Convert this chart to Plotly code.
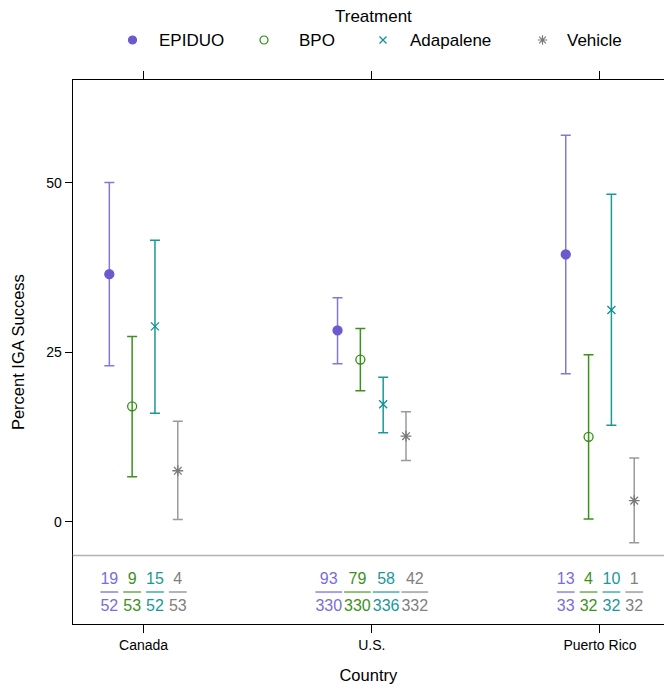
import plotly.graph_objects as go

W, H = 664, 685

countries = ["Canada", "U.S.", "Puerto Rico"]
treatments = ["EPIDUO", "BPO", "Adapalene", "Vehicle"]
y_ticks = [0, 25, 50]

# percent IGA success and confidence limits, per country
epiduo_pct = [36.5, 28.2, 39.4]
epiduo_lo = [23.0, 23.3, 21.8]
epiduo_hi = [50.0, 33.0, 57.0]
epiduo_succ = [19, 93, 13]
epiduo_n = [52, 330, 33]

bpo_pct = [17.0, 23.9, 12.5]
bpo_lo = [6.6, 19.3, 0.4]
bpo_hi = [27.3, 28.5, 24.6]
bpo_succ = [9, 79, 4]
bpo_n = [53, 330, 32]

adap_pct = [28.8, 17.3, 31.2]
adap_lo = [16.0, 13.1, 14.2]
adap_hi = [41.5, 21.3, 48.3]
adap_succ = [15, 58, 10]
adap_n = [52, 336, 32]

veh_pct = [7.5, 12.6, 3.1]
veh_lo = [0.3, 9.0, -3.1]
veh_hi = [14.8, 16.2, 9.4]
veh_succ = [4, 42, 1]
veh_n = [53, 332, 32]

FONT = "Liberation Sans, Arial, sans-serif"
FS = 16  # fraction font size

series = [
    dict(name="EPIDUO", pct=epiduo_pct, lo=epiduo_lo, hi=epiduo_hi, succ=epiduo_succ, n=epiduo_n,
         symbol="circle", size=9, lsize=8, color="#6a5acd", bar="#8576d8",
         text="#7a6dd8", under="#aaa0e6"),
    dict(name="BPO", pct=bpo_pct, lo=bpo_lo, hi=bpo_hi, succ=bpo_succ, n=bpo_n,
         symbol="circle-open", size=9, lsize=8, color="#2f8f12", bar="#3a921c",
         text="#3a921c", under="#8fc17a"),
    dict(name="Adapalene", pct=adap_pct, lo=adap_lo, hi=adap_hi, succ=adap_succ, n=adap_n,
         symbol="x-thin-open", size=8, lsize=7, color="#0e8f8f", bar="#1c9898",
         text="#1a9898", under="#72c0c0"),
    dict(name="Vehicle", pct=veh_pct, lo=veh_lo, hi=veh_hi, succ=veh_succ, n=veh_n,
         symbol="asterisk-open", size=9, lsize=8, color="#7a7a7a", bar="#9a9a9a",
         text="#808080", under="#b4b4b4"),
]

X_DOMAIN = [72.7 / W, 1]
X_RANGE = [0.6895, 3.2805]
PX_PER_UNIT = (X_DOMAIN[1] - X_DOMAIN[0]) * W / (X_RANGE[1] - X_RANGE[0])
DODGE = 0.1            # spacing of the treatment points within a country
DIGIT_W = 0.556 * FS   # approximate digit width in px

NUM_Y, LINE_Y, DEN_Y = -8.6, -10.39, -12.55

# positions of fraction labels: spaced like the points unless the text is too wide
frac_x = [[0.0] * len(countries) for _ in series]
under_half = [[0.0] * len(countries) for _ in series]
for i in range(len(countries)):
    maxdig = max(max(len(str(s["n"][i])), len(str(s["succ"][i]))) for s in series)
    spacing = max(DODGE, (maxdig * DIGIT_W + 2) / PX_PER_UNIT)
    for k, s in enumerate(series):
        frac_x[k][i] = i + 1 + (k - 1.5) * spacing
        dig = max(len(str(s["n"][i])), len(str(s["succ"][i])))
        under_half[k][i] = dig * DIGIT_W / 2 / PX_PER_UNIT

fig = go.Figure()
for k, s in enumerate(series):
    xs = [i + 1 + (k - 1.5) * DODGE for i in range(len(countries))]
    up = [h - p for h, p in zip(s["hi"], s["pct"])]
    dn = [p - l for p, l in zip(s["pct"], s["lo"])]
    fig.add_trace(go.Scatter(
        x=xs, y=s["pct"], mode="markers", showlegend=False,
        marker=dict(symbol=s["symbol"], size=s["size"], color=s["color"],
                    line=dict(color=s["color"], width=1.3)),
        error_y=dict(type="data", symmetric=False, array=up, arrayminus=dn,
                     color=s["bar"], thickness=1.5, width=5),
    ))
    fx = frac_x[k]
    fig.add_trace(go.Scatter(
        x=fx, y=[NUM_Y] * len(fx), mode="text", showlegend=False,
        text=[str(v) for v in s["succ"]],
        textfont=dict(family=FONT, size=FS, color=s["text"]),
    ))
    fig.add_trace(go.Scatter(
        x=fx, y=[DEN_Y] * len(fx), mode="text", showlegend=False,
        text=[str(v) for v in s["n"]],
        textfont=dict(family=FONT, size=FS, color=s["text"]),
    ))
    lx, ly = [], []
    for x, hw in zip(fx, under_half[k]):
        lx += [x - hw, x + hw, None]
        ly += [LINE_Y, LINE_Y, None]
    fig.add_trace(go.Scatter(x=lx, y=ly, mode="lines", showlegend=False,
                             line=dict(color=s["under"], width=2)))

# custom legend on a helper axis in the top area (pixel units)
leg_marker_x = [132.5, 264, 383, 542.5]
leg_text_x = [157, 296.5, 408, 565]
for s, mx, tx in zip(series, leg_marker_x, leg_text_x):
    fig.add_trace(go.Scatter(
        x=[mx], y=[40], mode="markers", showlegend=False, xaxis="x2", yaxis="y2",
        marker=dict(symbol=s["symbol"], size=s["lsize"], color=s["color"],
                    line=dict(color=s["color"], width=1.2)),
    ))
    fig.add_annotation(x=tx, y=40, xref="x2", yref="y2", text=s["name"],
                       showarrow=False, xanchor="left", yanchor="middle",
                       font=dict(family=FONT, size=17, color="black"))

fig.add_annotation(x=373 / W, y=1 - 17 / H, xref="paper", yref="paper", text="Treatment",
                   showarrow=False, xanchor="center", yanchor="middle",
                   font=dict(family=FONT, size=17, color="black"))

fig.add_shape(type="line", xref="x domain", yref="y", x0=0, x1=1, y0=-5, y1=-5,
              line=dict(color="#b0b0b0", width=1.5))

fig.update_layout(
    width=W, height=H,
    margin=dict(l=0, r=0, t=0, b=0),
    paper_bgcolor="white", plot_bgcolor="white",
    font=dict(family=FONT, color="black"),
    xaxis=dict(
        domain=X_DOMAIN, range=X_RANGE,
        tickvals=[1, 2, 3], ticktext=countries,
        showline=True, linecolor="black", linewidth=1, mirror="ticks",
        ticks="outside", ticklen=8, tickcolor="black", tickwidth=1,
        showgrid=False, zeroline=False,
        tickfont=dict(size=14),
        title=dict(text="Country", font=dict(size=16.5), standoff=17),
    ),
    yaxis=dict(
        domain=[61 / H, (H - 80.3) / H], range=[-15.1, 65.09],
        tickvals=y_ticks,
        showline=True, linecolor="black", linewidth=1,
        ticks="outside", ticklen=7, tickcolor="black", tickwidth=1,
        showgrid=False, zeroline=False,
        tickfont=dict(size=14),
        title=dict(text="Percent IGA Success", font=dict(size=16.5), standoff=17),
    ),
    xaxis2=dict(domain=[0, 1], range=[0, W], visible=False, anchor="y2"),
    yaxis2=dict(domain=[1 - 60 / H, 1], range=[60, 0], visible=False, anchor="x2"),
)

fig.write_html("out.html")
